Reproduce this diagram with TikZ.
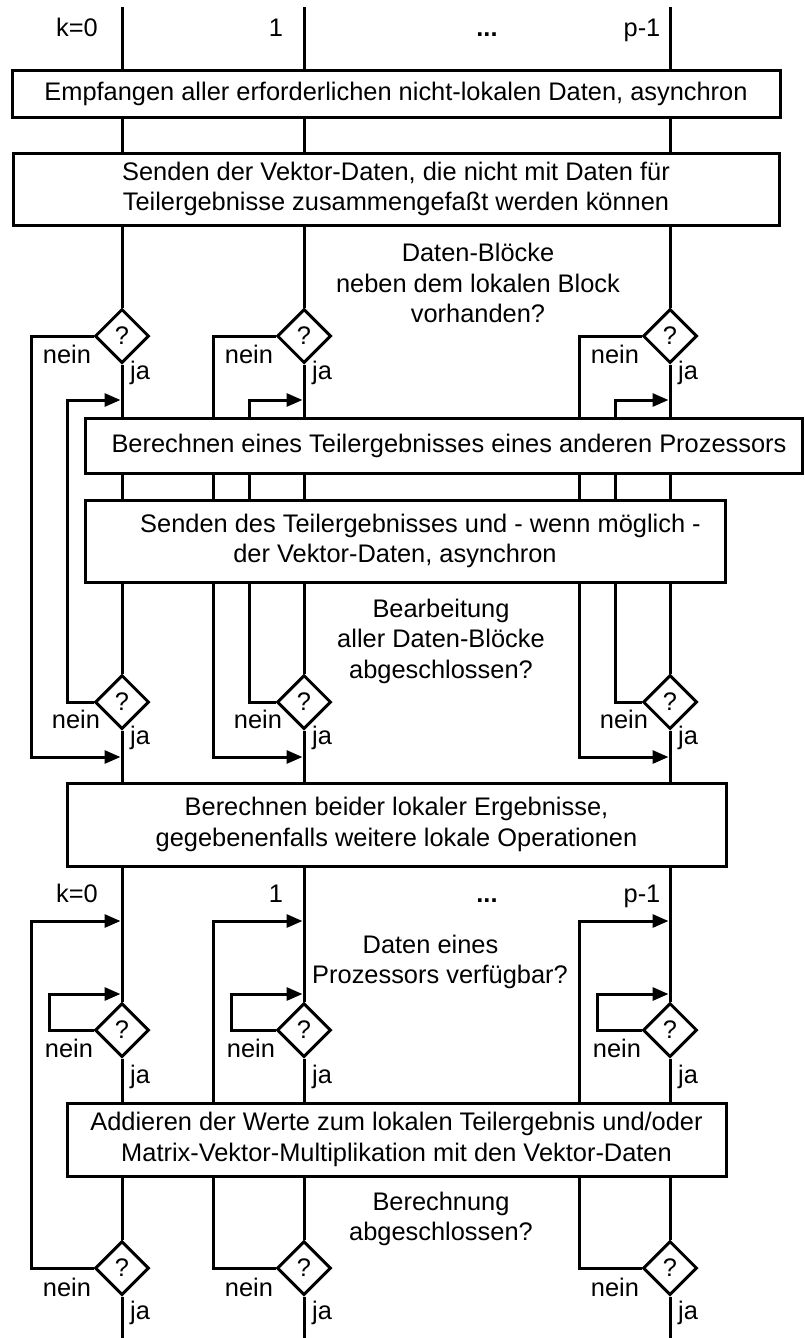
\documentclass[tikz,border=0pt]{standalone}
\usepackage{fontspec}
\setmainfont{Liberation Sans}
\usetikzlibrary{arrows.meta}
\usetikzlibrary{shapes.geometric}

\begin{document}
\begin{tikzpicture}[x=1pt,y=-1pt,font=\fontsize{25.4}{30.5}\selectfont,
  flow/.style={line width=3pt},
  into/.style={line width=3pt,-{Triangle[length=16pt,width=13pt]}},
  block/.style={draw,line width=3pt,fill=white,align=center,inner sep=0pt},
  query/.style={diamond,draw,line width=3pt,fill=white,inner sep=0pt,minimum width=54pt,minimum height=54pt}]
\useasboundingbox (0,0) rectangle (805,1338);
\foreach \cx/\i in {122/0,304/1,670/2} {
  \node[query] (qa\i) at (\cx,336) {?};
  \node[query] (qb\i) at (\cx,702) {?};
  \node[query] (qc\i) at (\cx,1030) {?};
  \node[query] (qd\i) at (\cx,1268) {?};
  \coordinate (top\i) at (\cx,7);
  \coordinate (bot\i) at (\cx,1338);
  \coordinate (ra\i) at (\cx-1.5,400);
  \coordinate (rb\i) at (\cx-1.5,757);
  \coordinate (rd\i) at (\cx-1.5,921);
  \coordinate (rc\i) at (\cx-1.5,994);
  \draw[flow] (top\i) -- (qa\i) -- (qb\i) -- (qc\i) -- (qd\i) -- (bot\i);
  \draw[into] (qa\i.west) -- ++(-62.5,0) |- (rb\i);
  \draw[into] (qb\i.west) -- ++(-26.5,0) |- (ra\i);
  \draw[into] (qc\i.west) -- ++(-44.5,0) |- (rc\i);
  \draw[into] (qd\i.west) -- ++(-62.5,0) |- (rd\i);
  \node (na\i) at (\cx-55,354) {nein};
  \node (ja\i) at (\cx+18,373) {ja};
  \node (nb\i) at (\cx-46,719) {nein};
  \node (jb\i) at (\cx+18,738) {ja};
  \node (nc\i) at (\cx-53,1048) {nein};
  \node (jc\i) at (\cx+18,1077) {ja};
  \node (nd\i) at (\cx-55,1287) {nein};
  \node (jd\i) at (\cx+18,1313) {ja};
}
\foreach \ly/\r in {37/a,902/b} {
  \node[anchor=base] (k0\r) at (77,\ly) {k=0};
  \node[anchor=base] (k1\r) at (276,\ly) {1};
  \node[anchor=base] (kd\r) at (487,\ly) {\textbf{...}};
  \node[anchor=base] (kp\r) at (642,\ly) {p-1};
}
\node[block,minimum width=768pt,minimum height=46pt] (recv) at (396,94)
  {Empfangen aller erforderlichen nicht-lokalen Daten, asynchron};
\node[block,minimum width=766pt,minimum height=72pt] (sendv) at (396,189)
  {Senden der Vektor-Daten, die nicht mit Daten für\\Teilergebnisse zusammengefaßt werden können};
\node[align=center] (blocks) at (478,283) {Daten-Blöcke\\neben dem lokalen Block\\vorhanden?};
\node[block,minimum width=717pt,minimum height=55pt] (part) at (443.5,445.5)
  {\hspace*{11pt}Berechnen eines Teilergebnisses eines anderen Prozessors};
\node[block,minimum width=640pt,minimum height=82pt] (sendp) at (405,541)
  {\hspace*{31pt}Senden des Teilergebnisses und - wenn möglich -\\der Vektor-Daten, asynchron\hspace*{20pt}};
\node[align=center] (done) at (441,641) {Bearbeitung\\aller Daten-Blöcke\\abgeschlossen?};
\node[block,minimum width=659pt,minimum height=83pt] (local) at (396.5,824.5)
  {Berechnen beider lokaler Ergebnisse,\\gegebenenfalls weitere lokale Operationen};
\node[align=center] (avail) at (440,962) {Daten eines\hspace*{19pt}\\Prozessors verfügbar?};
\node[block,minimum width=659pt,minimum height=73pt] (add) at (396.5,1139.5)
  {Addieren der Werte zum lokalen Teilergebnis und/oder\\Matrix-Vektor-Multiplikation mit den Vektor-Daten};
\node[align=center] (fin) at (441,1219) {Berechnung\\abgeschlossen?};
\end{tikzpicture}
\end{document}
